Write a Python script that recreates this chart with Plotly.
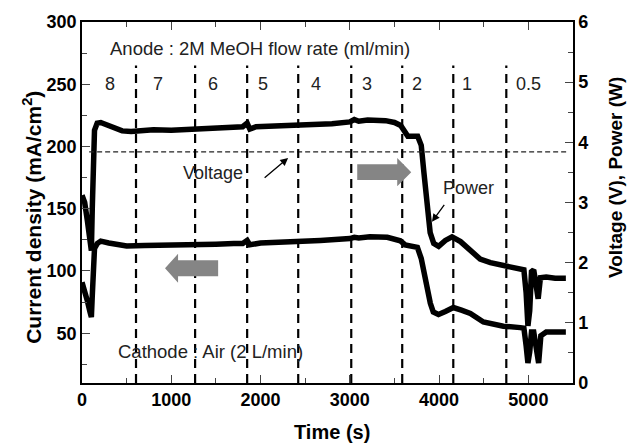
import plotly.graph_objects as go

# ---------------- data ----------------
time_power = [0, 30, 60, 90, 105, 115, 125, 140, 170, 210, 260, 350, 450, 550, 650, 800, 1000,
              1200, 1300, 1500, 1700, 1800, 1850, 1880, 1950, 2100, 2300, 2400, 2600, 2800, 3000,
              3050, 3100, 3200, 3400, 3500, 3570, 3620, 3650, 3760, 3800, 3830, 3865, 3900, 3940,
              3995, 4070, 4145, 4240, 4350, 4460, 4575, 4720, 4875, 4950, 4975, 4995, 5015, 5035,
              5060, 5090, 5110, 5135, 5200, 5300, 5420]
power_w = [3.12, 3.0, 2.7, 2.3, 2.2, 2.9, 3.8, 4.2, 4.32, 4.33, 4.3, 4.24, 4.19, 4.18, 4.2, 4.21, 4.2,
           4.21, 4.23, 4.23, 4.24, 4.26, 4.32, 4.22, 4.26, 4.27, 4.28, 4.27, 4.3, 4.31, 4.34,
           4.38, 4.35, 4.37, 4.36, 4.33, 4.28, 4.15, 4.1, 4.1, 3.95, 3.5, 2.9, 2.5, 2.32,
           2.27, 2.37, 2.43, 2.35, 2.2, 2.06, 2.0, 1.96, 1.91, 1.88, 1.5, 0.95, 1.2, 1.85,
           1.88, 1.6, 1.4, 1.75, 1.76, 1.74, 1.74]

time_current = [0, 30, 60, 90, 105, 115, 125, 140, 170, 210, 300, 400, 500, 700, 1000, 1200, 1500,
                1700, 1800, 1850, 1880, 2000, 2200, 2450, 2670, 3000, 3050, 3100, 3225, 3420, 3500,
                3566, 3620, 3700, 3757, 3800, 3850, 3902, 3935, 3993, 4070, 4160, 4250, 4350, 4496,
                4600, 4720, 4910, 4950, 4975, 4995, 5015, 5035, 5060, 5090, 5115, 5140, 5200, 5300,
                5420]
current_density = [91, 85, 76, 67, 63, 80, 105, 118, 122, 124, 122.5, 121, 120, 120.5, 120.5, 121, 121.5,
                   122, 122, 124.5, 121, 122.5, 123, 123.4, 124.5, 126, 127, 126.5, 127.4, 127, 126,
                   124.2, 121, 119.4, 119, 110, 90, 74, 67, 65, 67.5, 70.6, 68.5, 65.8, 59,
                   57, 55.6, 54.5, 54, 40, 26, 35, 51, 51, 38, 26, 48, 51, 51,
                   51]

time_voltage = [80, 1000, 2000, 3000, 4000, 5000, 5430]
voltage_v = [3.84, 3.84, 3.84, 3.84, 3.84, 3.84, 3.84]

flow_boundaries = [605, 1267, 1850, 2422, 3016, 3587, 4159, 4753]
flow_labels = ["8", "7", "6", "5", "4", "3", "2", "1", "0.5"]
flow_label_x = [314, 852, 1469, 2029, 2623, 3195, 3756, 4316, 5000]

x_ticks = [0, 1000, 2000, 3000, 4000, 5000]
y_ticks = [50, 100, 150, 200, 250, 300]
y2_ticks = [0, 1, 2, 3, 4, 5, 6]

FONT = "Liberation Sans, Arial, sans-serif"
TXT = "#222222"

fig = go.Figure()
fig.add_trace(go.Scatter(x=time_current, y=current_density, mode="lines",
                         line=dict(color="black", width=5.5), name="Current density"))
fig.add_trace(go.Scatter(x=time_power, y=power_w, mode="lines", yaxis="y2",
                         line=dict(color="black", width=5.5), name="Power"))
fig.add_trace(go.Scatter(x=time_voltage, y=voltage_v, mode="lines", yaxis="y2",
                         line=dict(color="#222222", width=1.2, dash="5px,3px"), name="Voltage"))

shapes = []
for b in flow_boundaries:
    shapes.append(dict(type="line", xref="x", yref="y", x0=b, x1=b, y0=10, y1=265,
                       line=dict(color="black", width=2.2, dash="9px,6px")))

# grey block arrows
def block_arrow(tail, base, tip, yc, hb, hh):
    return (f"M {tail},{yc-hb} L {base},{yc-hb} L {base},{yc-hh} L {tip},{yc} "
            f"L {base},{yc+hh} L {base},{yc+hb} L {tail},{yc+hb} Z")

shapes.append(dict(type="path", xref="x", yref="y",
                   path=block_arrow(3083, 3531, 3688, 179.4, 6.4, 11.3),
                   fillcolor="#858585", line=dict(width=0)))
shapes.append(dict(type="path", xref="x", yref="y",
                   path=block_arrow(1525, 1076, 930, 102.2, 6.4, 11.6),
                   fillcolor="#858585", line=dict(width=0)))

def txt(x, y, s, size=18):
    return dict(x=x, y=y, xref="x", yref="y", text=s, showarrow=False,
                xanchor="center", yanchor="middle",
                font=dict(family=FONT, size=size, color=TXT))

annotations = []
for lab, lx in zip(flow_labels, flow_label_x):
    annotations.append(txt(lx, 250, lab))
annotations += [
    txt(1996, 279, "Anode : 2M MeOH flow rate (ml/min)", 18.5),
    txt(1435, 35, "Cathode : Air (2 L/min)", 18.5),
    txt(1469, 178.6, "Voltage"),
    txt(4331, 166.3, "Power"),
    dict(x=2309, y=190.7, xref="x", yref="y", ax=2029, ay=173.8, axref="x", ayref="y",
         text="", showarrow=True, arrowhead=2, arrowsize=1.2, arrowwidth=1.3, arrowcolor="black"),
    dict(x=3920, y=139.5, xref="x", yref="y", ax=4070, ay=154.3, axref="x", ayref="y",
         text="", showarrow=True, arrowhead=2, arrowsize=1.2, arrowwidth=1.3, arrowcolor="black"),
    dict(x=-0.102, y=0.46, xref="paper", yref="paper", text="Current density (mA/cm<sup>2</sup>)",
         textangle=-90, showarrow=False, xanchor="center", yanchor="middle",
         font=dict(family=FONT, size=21, color="black", weight="bold")),
    dict(x=1.0855, y=0.5706, xref="paper", yref="paper", text="Voltage (V), Power (W)",
         textangle=-90, showarrow=False, xanchor="center", yanchor="middle",
         font=dict(family=FONT, size=19, color="black", weight="bold")),
    dict(x=0.51, y=-0.136, xref="paper", yref="paper", text="Time (s)", showarrow=False,
         xanchor="center", yanchor="middle",
         font=dict(family=FONT, size=20, color="black", weight="bold")),
]

tickfont = dict(family=FONT, size=18, color="black", weight="bold")
fig.update_layout(
    width=631, height=435,
    margin=dict(l=74, r=66, t=14, b=60, autoexpand=False),
    paper_bgcolor="white", plot_bgcolor="white",
    showlegend=False,
    shapes=shapes, annotations=annotations,
    xaxis=dict(range=[0, 5500], tickvals=x_ticks, ticks="inside", ticklen=8, tickwidth=1.3,
               showline=True, linecolor="black", linewidth=1.5, mirror="ticks",
               showgrid=False, zeroline=False, tickfont=tickfont, automargin=False,
               minor=dict(ticks="inside", ticklen=5, dtick=500, tickwidth=1.2, showgrid=False)),
    yaxis=dict(range=[10, 300], tickvals=y_ticks, ticks="inside", ticklen=8, tickwidth=1.3,
               showline=True, linecolor="black", linewidth=1.5, automargin=False,
               showgrid=False, zeroline=False, tickfont=tickfont,
               minor=dict(ticks="inside", ticklen=5, dtick=25, tick0=0, tickwidth=1.2, showgrid=False)),
    yaxis2=dict(range=[0, 6], tickvals=y2_ticks, ticks="inside", ticklen=8, tickwidth=1.3,
                overlaying="y", side="right", automargin=False,
                showline=True, linecolor="black", linewidth=1.5,
                showgrid=False, zeroline=False, tickfont=tickfont,
                minor=dict(ticks="inside", ticklen=5, dtick=0.5, tick0=0, tickwidth=1.2, showgrid=False)),
)

fig.write_html("out.html")
